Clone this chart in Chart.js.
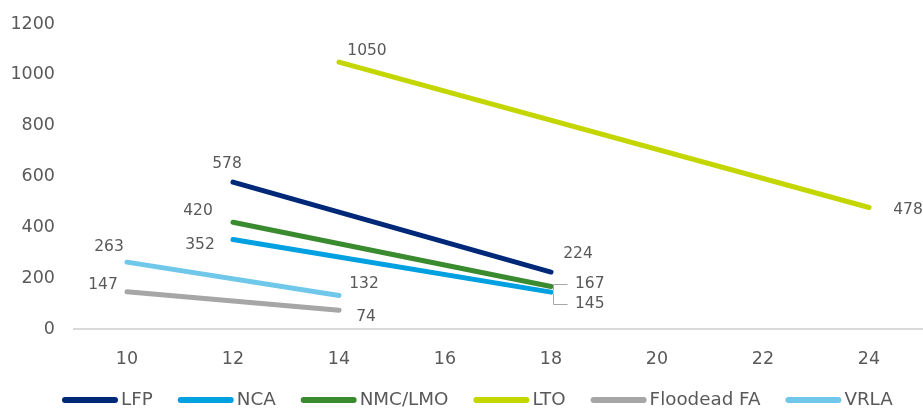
<!DOCTYPE html>
<html>
<head>
<meta charset="utf-8">
<script src="https://cdn.jsdelivr.net/npm/chart.js@4/dist/chart.umd.min.js"></script>
<style>
  html, body { margin: 0; padding: 0; background: #ffffff; }
  #wrap { width: 923px; height: 408px; position: relative; }
</style>
</head>
<body>
<div id="wrap"><canvas id="chart"></canvas></div>
<script>
// Cost per chemistry over the years
const seriesNames = ['LFP', 'NCA', 'NMC/LMO', 'LTO', 'Floodead FA', 'VRLA'];
const lfpX = [12, 18],   lfpY = [578, 224];
const ncaX = [12, 18],   ncaY = [352, 145];
const nmcX = [12, 18],   nmcY = [420, 167];
const ltoX = [14, 24],   ltoY = [1050, 478];
const floodX = [10, 14], floodY = [147, 74];
const vrlaX = [10, 14],  vrlaY = [263, 132];
const xTicks = [10, 12, 14, 16, 18, 20, 22, 24];
const yTicks = [0, 200, 400, 600, 800, 1000, 1200];

const colors = ['#002878', '#00a0e1', '#3a8b2f', '#c3d600', '#a6a6a6', '#6fc7ea'];
const textColor = '#595959';
const FONT = '"DejaVu Sans", Verdana, sans-serif';

// Where each value label sits relative to its point (pixels), and optional leader lines
const labelPlacement = [
  [{ dx: -6, dy: -18 }, { dx: 27, dy: -18 }],
  [{ dx: -33, dy: 5 }, { dx: 24, dy: 12, align: 'left', leader: [[2, 1], [2, 12], [16, 12]] }],
  [{ dx: -35, dy: -11 }, { dx: 24, dy: -3, align: 'left', leader: [[2, 3], [2, -3], [16, -3]] }],
  [{ dx: 28, dy: -11 }, { dx: 39, dy: 2 }],
  [{ dx: -24, dy: -7 }, { dx: 27, dy: 7 }],
  [{ dx: -18, dy: -15 }, { dx: 25, dy: -11 }]
];

const xs = [lfpX, ncaX, nmcX, ltoX, floodX, vrlaX];
const ys = [lfpY, ncaY, nmcY, ltoY, floodY, vrlaY];

const datasets = seriesNames.map((name, i) => ({
  label: name,
  data: xs[i].map((x, j) => ({ x: x, y: ys[i][j] })),
  borderColor: colors[i],
  backgroundColor: colors[i],
  borderWidth: 5,
  borderCapStyle: 'round',
  pointRadius: 0,
  pointHoverRadius: 0,
  fill: false,
  tension: 0
}));

const valueLabels = {
  id: 'valueLabels',
  afterDatasetsDraw(chart) {
    const ctx = chart.ctx;
    ctx.save();
    ctx.font = '15.5px ' + FONT;
    ctx.fillStyle = textColor;
    ctx.textBaseline = 'middle';
    chart.data.datasets.forEach((ds, i) => {
      const meta = chart.getDatasetMeta(i);
      meta.data.forEach((pt, j) => {
        const p = labelPlacement[i][j];
        if (p.leader) {
          ctx.beginPath();
          ctx.strokeStyle = '#a6a6a6';
          ctx.lineWidth = 1;
          p.leader.forEach((q, k) => {
            const px = Math.round(pt.x + q[0]) + 0.5, py = Math.round(pt.y + q[1]) + 0.5;
            if (k === 0) ctx.moveTo(px, py); else ctx.lineTo(px, py);
          });
          ctx.stroke();
        }
        ctx.textAlign = p.align || 'center';
        ctx.fillText(String(ds.data[j].y), pt.x + p.dx, pt.y + p.dy);
      });
    });
    ctx.restore();
  }
};

// Legend row along the bottom: thick rounded swatch followed by the series name
const bottomLegend = {
  id: 'bottomLegend',
  afterDraw(chart) {
    const ctx = chart.ctx;
    ctx.save();
    ctx.font = '18.3px ' + FONT;
    const sw = 56, gap = 3, spacing = 25;
    let x = 62;
    const y = 400;
    chart.data.datasets.forEach((ds) => {
      ctx.beginPath();
      ctx.strokeStyle = ds.borderColor;
      ctx.lineWidth = 6;
      ctx.lineCap = 'round';
      ctx.moveTo(x + 3, y);
      ctx.lineTo(x + sw - 3, y);
      ctx.stroke();
      ctx.fillStyle = textColor;
      ctx.textAlign = 'left';
      ctx.textBaseline = 'middle';
      ctx.fillText(ds.label, x + sw + gap, y);
      x += sw + gap + ctx.measureText(ds.label).width + spacing;
    });
    ctx.restore();
  }
};

new Chart(document.getElementById('chart'), {
  type: 'line',
  data: { datasets },
  plugins: [valueLabels, bottomLegend],
  options: {
    responsive: true,
    maintainAspectRatio: false,
    animation: false,
    devicePixelRatio: 1,
    layout: { padding: { top: 24, right: 1, bottom: 43, left: 0 } },
    plugins: {
      legend: { display: false },
      tooltip: { enabled: false }
    },
    scales: {
      x: {
        type: 'linear',
        min: 9,
        max: 25,
        afterBuildTicks: (s) => { s.ticks = xTicks.map(v => ({ value: v })); },
        afterFit: (s) => { s.height = 36; },
        grid: { display: false },
        border: { display: true, color: '#d9d9d9', width: 2 },
        ticks: { color: textColor, font: { family: FONT, size: 17.5 }, padding: 12, maxRotation: 0 }
      },
      y: {
        type: 'linear',
        min: 0,
        max: 1200,
        afterBuildTicks: (s) => { s.ticks = yTicks.map(v => ({ value: v })); },
        afterFit: (s) => { s.width = 74; },
        grid: { display: false },
        border: { display: false },
        ticks: { color: textColor, font: { family: FONT, size: 17.5 }, padding: 11, callback: (v) => String(v) }
      }
    }
  }
});
</script>
</body>
</html>
